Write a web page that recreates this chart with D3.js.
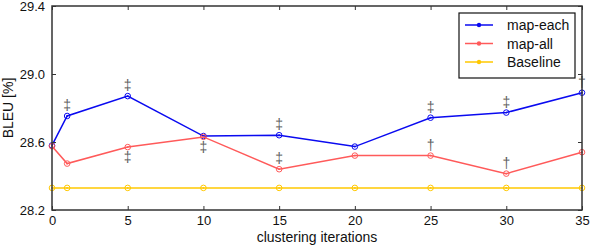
<!DOCTYPE html>
<html>
<head>
<meta charset="utf-8">
<script src="https://cdn.jsdelivr.net/npm/d3@7"></script>
<style>
body { margin: 0; background: #fff; }
text { font-family: "Liberation Sans", Arial, sans-serif; }
</style>
</head>
<body>
<div id="chart"></div>
<script>
var iterations = [0, 1, 5, 10, 15, 20, 25, 30, 35];
var mapEach = [28.58, 28.753, 28.87, 28.635, 28.64, 28.573, 28.743, 28.773, 28.89];
var mapAll = [28.575, 28.473, 28.57, 28.63, 28.44, 28.52, 28.52, 28.414, 28.54];
var baseline = [28.33, 28.33, 28.33, 28.33, 28.33, 28.33, 28.33, 28.33, 28.33];
var xTicks = [0, 5, 10, 15, 20, 25, 30, 35];
var yTicks = [28.2, 28.6, 29.0, 29.4];
// significance marks: [series, iteration, symbol, side]
var marks = [
  ["each", 1, "‡", "up"], ["each", 5, "‡", "up"], ["each", 15, "‡", "up"],
  ["each", 25, "‡", "up"], ["each", 30, "‡", "up"], ["each", 35, "†", "up"],
  ["all", 5, "‡", "down"], ["all", 10, "‡", "down"], ["all", 15, "‡", "up"],
  ["all", 25, "†", "up"], ["all", 30, "†", "up"]
];

var series = [
  {name: "map-each", key: "each", values: mapEach, color: "#0a0af0"},
  {name: "map-all", key: "all", values: mapAll, color: "#ff5a5a"},
  {name: "Baseline", key: "base", values: baseline, color: "#ffc800"}
];

var W = 590, H = 246;
var margin = {top: 6, right: 8, bottom: 36, left: 52};
var w = W - margin.left - margin.right,
    h = H - margin.top - margin.bottom;

var svg = d3.select("#chart").append("svg")
  .attr("width", W).attr("height", H);
var g = svg.append("g")
  .attr("transform", "translate(" + margin.left + "," + margin.top + ")");

var x = d3.scaleLinear().domain([0, 35]).range([0, w]);
var y = d3.scaleLinear().domain([28.2, 29.4]).range([h, 0]);

// lines
var line = d3.line()
  .x(function(d, i) { return x(iterations[i]); })
  .y(function(d) { return y(d); });

series.forEach(function(s) {
  g.append("path")
    .datum(s.values)
    .attr("d", line)
    .attr("fill", "none")
    .attr("stroke", s.color)
    .attr("stroke-width", 1.5);
  g.selectAll(null)
    .data(s.values)
    .enter().append("circle")
    .attr("cx", function(d, i) { return x(iterations[i]); })
    .attr("cy", function(d) { return y(d); })
    .attr("r", 2.8)
    .attr("fill", "none")
    .attr("stroke", s.color)
    .attr("stroke-width", 1);
  g.selectAll(null)
    .data(s.values)
    .enter().append("circle")
    .attr("cx", function(d, i) { return x(iterations[i]); })
    .attr("cy", function(d) { return y(d); })
    .attr("r", 0.9)
    .attr("fill", s.color);
});

// daggers
marks.forEach(function(m) {
  var s = m[0] == "each" ? mapEach : mapAll;
  var v = s[iterations.indexOf(m[1])];
  var yy = m[3] == "up" ? y(v) - 6 : y(v) + 15;
  g.append("text")
    .attr("x", x(m[1]))
    .attr("y", yy)
    .attr("text-anchor", "middle")
    .attr("font-size", 14)
    .attr("fill", "#606060")
    .text(m[2]);
});

// frame
g.append("rect")
  .attr("width", w).attr("height", h)
  .attr("fill", "none")
  .attr("stroke", "#333")
  .attr("stroke-width", 1.5);

// ticks pointing inward
var yAxis = d3.axisLeft(y).tickValues(yTicks).tickFormat(d3.format(".1f")).tickSize(-4).tickPadding(7);
var yAxisR = d3.axisRight(y).tickValues(yTicks).tickFormat("").tickSize(-4);
var xAxis = d3.axisBottom(x).tickValues(xTicks).tickSize(-4).tickPadding(6);
var xAxisT = d3.axisTop(x).tickValues(xTicks).tickFormat("").tickSize(-4);

[g.append("g").call(yAxis),
 g.append("g").attr("transform", "translate(" + w + ",0)").call(yAxisR),
 g.append("g").attr("transform", "translate(0," + h + ")").call(xAxis),
 g.append("g").call(xAxisT)].forEach(function(a) {
  a.select(".domain").remove();
  a.selectAll("line").attr("stroke", "#333");
  a.selectAll("text").attr("font-size", 13).attr("fill", "#111")
    .style("font-family", "Liberation Sans, Arial, sans-serif");
});

// axis titles
svg.append("text")
  .attr("transform", "translate(13," + (margin.top + h / 2) + ") rotate(-90)")
  .attr("text-anchor", "middle")
  .attr("font-size", 14)
  .attr("fill", "#111")
  .text("BLEU [%]");
svg.append("text")
  .attr("x", margin.left + w / 2)
  .attr("y", 242)
  .attr("text-anchor", "middle")
  .attr("font-size", 14)
  .attr("fill", "#111")
  .text("clustering iterations");

// legend
var leg = svg.append("g").attr("transform", "translate(459,13)");
leg.append("rect")
  .attr("width", 116).attr("height", 65)
  .attr("fill", "#fff")
  .attr("stroke", "#111")
  .attr("stroke-width", 1.2);
series.forEach(function(s, i) {
  var ly = 12 + i * 18.5;
  leg.append("line")
    .attr("x1", 6).attr("x2", 34)
    .attr("y1", ly).attr("y2", ly)
    .attr("stroke", s.color).attr("stroke-width", 1.5);
  leg.append("circle")
    .attr("cx", 20).attr("cy", ly).attr("r", 2.2)
    .attr("fill", s.color);
  leg.append("text")
    .attr("x", 48).attr("y", ly + 5)
    .attr("font-size", 14)
    .attr("fill", "#111")
    .text(s.name);
});
</script>
</body>
</html>
